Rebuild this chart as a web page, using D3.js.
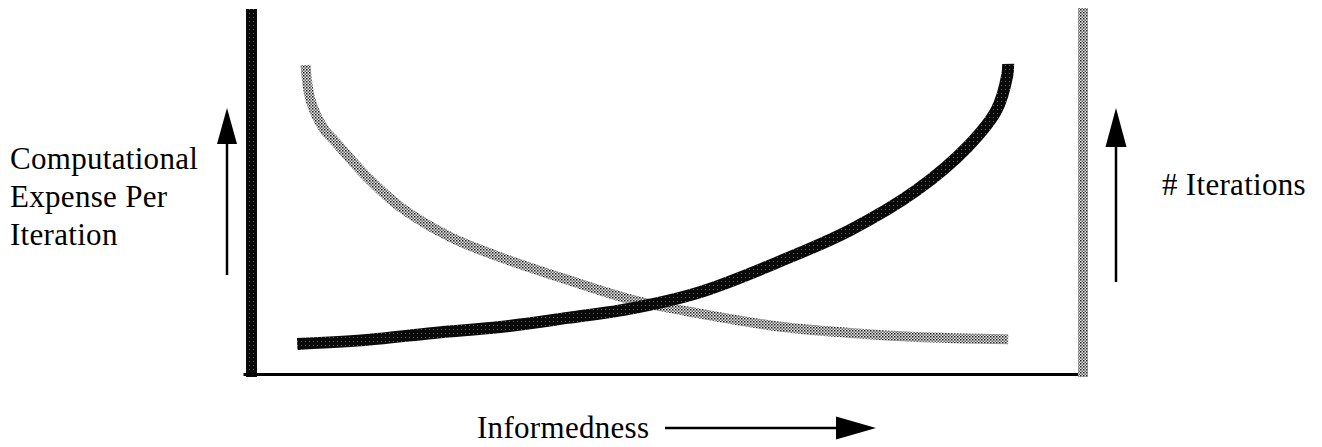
<!DOCTYPE html>
<html>
<head>
<meta charset="utf-8">
<script src="https://cdn.jsdelivr.net/npm/d3@7"></script>
<style>
  html, body { margin: 0; padding: 0; background: #fff; }
  svg { display: block; }
</style>
</head>
<body>
<svg id="chart" width="1322" height="447"></svg>
<script>
// ---- data (0-100 relative units) ----
const expenseX = [5.5, 13.9, 21.9, 29.9, 38.0, 45.9, 54.0, 63.9, 72.0, 80.0, 86.1, 89.6, 90.9, 91.0];
const expenseY = [8.5, 9.6, 11.5, 13.1, 15.6, 18.3, 22.7, 31.4, 39.6, 50.5, 62.3, 72.4, 82.0, 85.0];
const iterX = [6.5, 7.1, 8.8, 9.9, 13.9, 17.9, 23.9, 29.9, 38.0, 45.9, 53.6, 63.9, 72.0, 80.0, 91.0];
const iterY = [84.7, 75.1, 66.9, 64.2, 54.1, 45.9, 37.7, 32.2, 26.0, 20.5, 16.9, 13.1, 11.5, 10.4, 9.8];
const leftLabel = ["Computational", "Expense Per", "Iteration"];
const rightLabel = ["# Iterations"];
const xLabel = ["Informedness"];

const FONT = "'Liberation Serif', 'DejaVu Serif', 'Times New Roman', serif";

const svg = d3.select("#chart");
const x = d3.scaleLinear().domain([0, 100]).range([251.5, 1083]);
const y = d3.scaleLinear().domain([0, 100]).range([375, 9]);

// halftone patterns
const defs = svg.append("defs");
const light = defs.append("pattern").attr("id", "lightDots")
  .attr("patternUnits", "userSpaceOnUse").attr("width", 3).attr("height", 3);
light.append("rect").attr("width", 3).attr("height", 3).attr("fill", "#e2e2e2");
light.append("rect").attr("x", 0).attr("y", 0).attr("width", 1.5).attr("height", 1.5).attr("fill", "#222");
light.append("rect").attr("x", 1.5).attr("y", 1.5).attr("width", 1.5).attr("height", 1.5).attr("fill", "#666");

const dark = defs.append("pattern").attr("id", "darkDots")
  .attr("patternUnits", "userSpaceOnUse").attr("width", 4).attr("height", 4);
dark.append("rect").attr("width", 4).attr("height", 4).attr("fill", "#0a0a0a");
dark.append("rect").attr("x", 1).attr("y", 1).attr("width", 1).attr("height", 1).attr("fill", "#666");

// axes frame
svg.append("line")
  .attr("x1", x(0)).attr("x2", x(0)).attr("y1", y(100)).attr("y2", y(0) + 2)
  .attr("stroke", "url(#darkDots)").attr("stroke-width", 11);
svg.append("line")
  .attr("x1", x(0) - 8).attr("x2", x(100) - 4).attr("y1", y(0) - 0.5).attr("y2", y(0) - 0.5)
  .attr("stroke", "#000").attr("stroke-width", 3);
svg.append("line")
  .attr("x1", x(100)).attr("x2", x(100)).attr("y1", y(100) - 1).attr("y2", y(0) + 2)
  .attr("stroke", "url(#lightDots)").attr("stroke-width", 10);

// curves
const line = d3.line().x(d => x(d[0])).y(d => y(d[1])).curve(d3.curveCatmullRom.alpha(0.5));
const iterData = iterX.map((v, i) => [v, iterY[i]]);
const expData = expenseX.map((v, i) => [v, expenseY[i]]);

svg.append("path").datum(iterData).attr("d", line)
  .attr("fill", "none").attr("stroke", "url(#lightDots)").attr("stroke-width", 10);
svg.append("path").datum(expData).attr("d", line)
  .attr("fill", "none").attr("stroke", "url(#darkDots)").attr("stroke-width", 12);

// arrows
function arrow(x1, y1, x2, y2, headLen, headW) {
  const ang = Math.atan2(y2 - y1, x2 - x1);
  const bx = x2 - headLen * Math.cos(ang), by = y2 - headLen * Math.sin(ang);
  svg.append("line").attr("x1", x1).attr("y1", y1).attr("x2", bx).attr("y2", by)
    .attr("stroke", "#000").attr("stroke-width", 2.5);
  const px = -Math.sin(ang) * headW / 2, py = Math.cos(ang) * headW / 2;
  svg.append("path")
    .attr("d", `M${x2},${y2}L${bx + px},${by + py}L${bx - px},${by - py}Z`)
    .attr("fill", "#000");
}
arrow(227, 275, 227, 108, 36, 20);
arrow(1116, 282, 1116, 108, 39, 21);
arrow(665, 428, 876, 428, 40, 23);

// labels
const fs = 31;
function label(cls, data, xPos, yPos) {
  svg.selectAll("text." + cls).data(data).enter().append("text")
    .attr("class", cls).attr("x", xPos).attr("y", yPos)
    .attr("font-family", FONT).attr("font-size", fs).attr("letter-spacing", 0.3)
    .attr("fill", "#000").text(d => d);
}
label("left", leftLabel, 10, (d, i) => 169 + i * 38);
label("right", rightLabel, 1162, 195);
label("xl", xLabel, 477, 438);
</script>
</body>
</html>
